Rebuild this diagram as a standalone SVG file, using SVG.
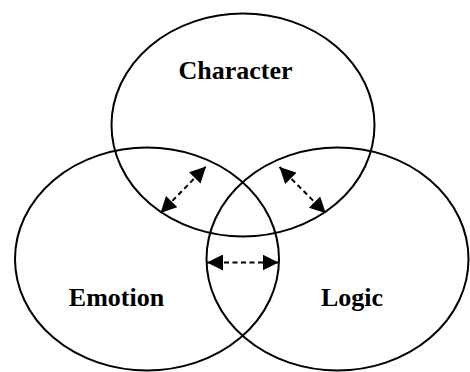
<svg xmlns="http://www.w3.org/2000/svg" width="470" height="372" viewBox="0 0 470 372">
<style>
.c{fill:none;stroke:#000;stroke-width:2}
.t{font-family:"Liberation Serif","Times New Roman",serif;font-weight:bold;font-size:26px;fill:#000;text-anchor:middle}
.a{stroke:#000;stroke-width:2;stroke-dasharray:5 3.5;fill:none;marker-start:url(#h);marker-end:url(#h)}
</style>
<defs>
<marker id="h" markerUnits="userSpaceOnUse" markerWidth="16" markerHeight="16" viewBox="0 0 15 15" refX="15" refY="7.5" orient="auto-start-reverse">
<path d="M0,0 L15,7.5 L0,15 z" fill="#000"/>
</marker>
</defs>
<rect width="470" height="372" fill="#fff"/>
<g id="character">
<ellipse class="c" cx="243" cy="125" rx="131.5" ry="111.5"/>
<text class="t" x="235.5" y="79">Character</text>
</g>
<g id="emotion">
<ellipse class="c" cx="147" cy="259" rx="132" ry="111.5"/>
<text class="t" x="116.5" y="306">Emotion</text>
</g>
<g id="logic">
<ellipse class="c" cx="337.5" cy="259" rx="131" ry="111.5"/>
<text class="t" x="352" y="306">Logic</text>
</g>
<g id="connectors">
<line class="a" x1="160.5" y1="213" x2="206" y2="166.5"/>
<line class="a" x1="279.5" y1="167" x2="325.8" y2="213.3"/>
<line class="a" x1="207" y1="262.5" x2="278.5" y2="262.5"/>
</g>
</svg>
